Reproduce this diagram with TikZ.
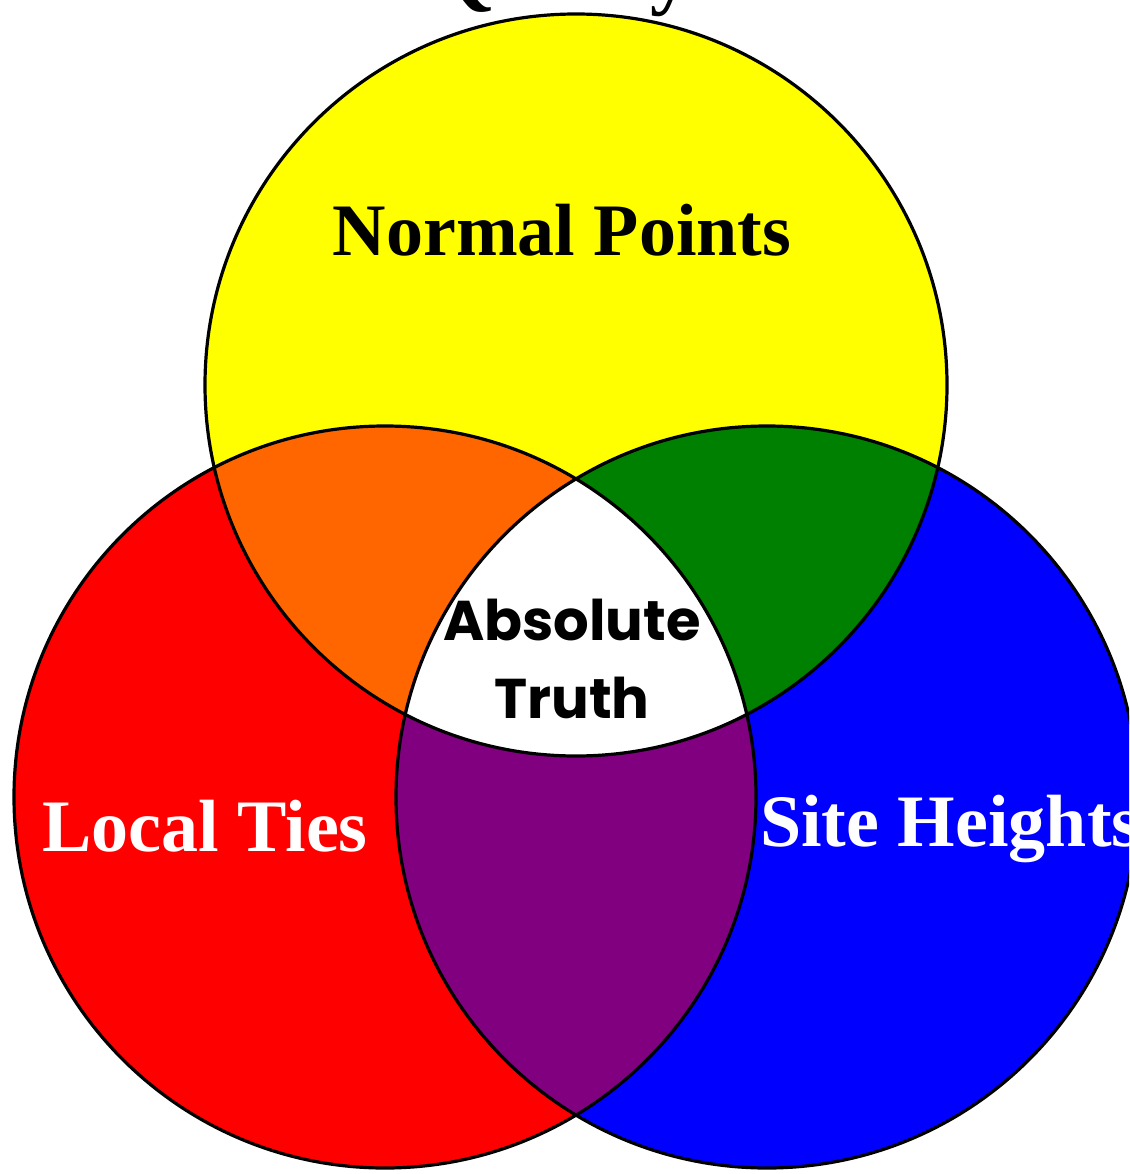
\documentclass[tikz,border=0pt]{standalone}
\usepackage{fontspec}
\usepackage{tikz}
\usepackage{xcolor}
\setmainfont{Liberation Serif}
\newfontfamily\handfont{Poppins}
\usetikzlibrary{positioning}
\definecolor{Venn_Yellow}{HTML}{FFFF00}
\definecolor{Venn_Red}{HTML}{FF0000}
\definecolor{Venn_Blue}{HTML}{0000FF}
\definecolor{Venn_Orange}{HTML}{FF6600}
\definecolor{Venn_Green}{HTML}{008000}
\definecolor{Venn_Purple}{HTML}{800080}

\begin{document}
\begin{tikzpicture}[
    x=1pt, y=-1pt,
    rim/.style={draw=black, line width=3.2pt},
    setlabel/.style={font=\fontsize{74}{80}\selectfont\bfseries, inner sep=0pt, anchor=base},
    core/.style={font=\handfont\fontsize{56}{78}\selectfont\bfseries, inner sep=0pt, anchor=base, align=center}
]
\def\rad{371pt}

\useasboundingbox (0,0) rectangle (1129,1174);
\clip (0,0) rectangle (1129,1174);

\coordinate (NP) at (576,385);
\coordinate (LT) at (385,797);
\coordinate (SH) at (767,797);

% title, mostly above the page
\node[font=\fontsize{80}{90}\selectfont\bfseries, inner sep=0pt, anchor=base west] (title) at (110,0) {Geodetic Quality Control};

% single sets
\fill[Venn_Yellow] (NP) circle (\rad);
\fill[Venn_Red] (LT) circle (\rad);
\fill[Venn_Blue] (SH) circle (\rad);

% pairwise overlaps
\begin{scope}
  \clip (NP) circle (\rad);
  \fill[Venn_Orange] (LT) circle (\rad);
  \fill[Venn_Green] (SH) circle (\rad);
\end{scope}
\begin{scope}
  \clip (LT) circle (\rad);
  \fill[Venn_Purple] (SH) circle (\rad);
\end{scope}

% all three
\begin{scope}
  \clip (NP) circle (\rad);
  \clip (LT) circle (\rad);
  \fill[white] (SH) circle (\rad);
\end{scope}

\path[rim] (NP) circle (\rad);
\path[rim] (LT) circle (\rad);
\path[rim] (SH) circle (\rad);

\node[setlabel] (np) at (562,255) {Normal Points};
\node[setlabel, text=white] (lt) at (205,851) {Local Ties};
\node[setlabel, text=white, anchor=base west] (sh) at (760,846) {Site Heights};
\node[core] (truth) at (572,718) {Absolute\\Truth};

\end{tikzpicture}
\end{document}
